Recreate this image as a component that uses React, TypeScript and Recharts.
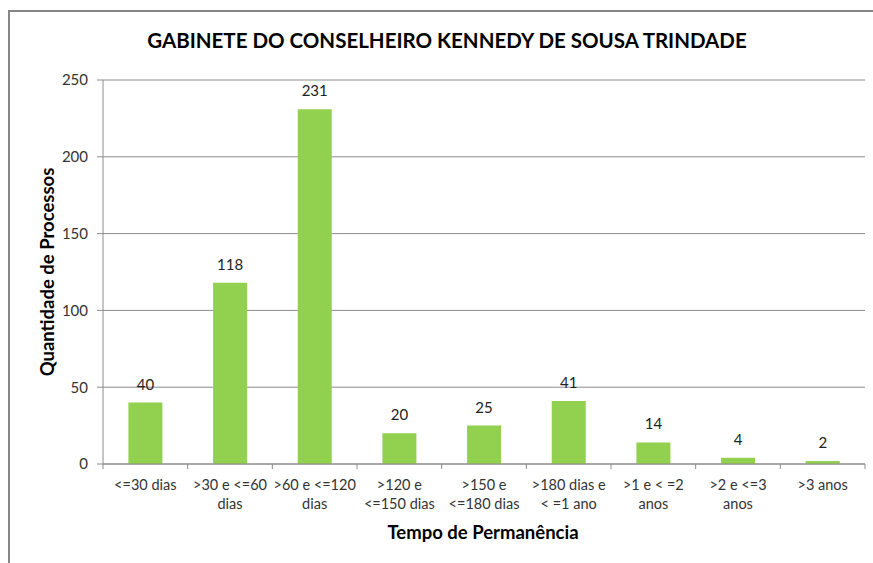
import React from "react";
import { BarChart, Bar, XAxis, YAxis, CartesianGrid, LabelList } from "recharts";

const categories = [
  "<=30 dias",
  ">30 e <=60\ndias",
  ">60 e <=120\ndias",
  ">120 e\n<=150 dias",
  ">150 e\n<=180 dias",
  ">180 dias e\n< =1 ano",
  ">1 e < =2\nanos",
  ">2 e <=3\nanos",
  ">3 anos",
];
const processos = [40, 118, 231, 20, 25, 41, 14, 4, 2];
const yTicks = [0, 50, 100, 150, 200, 250];

const data = categories.map((c, i) => ({ cat: c, value: processos[i] }));

const FONT = "Lato, 'Open Sans', sans-serif";
const PLOT_LEFT = 103;
const PLOT_RIGHT = 865;
const BAND = (PLOT_RIGHT - PLOT_LEFT) / categories.length;

const CatTick = ({ x, y, payload, index }: any) => {
  const lines = String(payload.value).split("\n");
  const left = x - BAND / 2;
  return (
    <g>
      <line x1={left} x2={left} y1={y - 8} y2={y - 3} stroke="#8c8c8c" />
      {index === categories.length - 1 && (
        <line x1={left + BAND} x2={left + BAND} y1={y - 8} y2={y - 3} stroke="#8c8c8c" />
      )}
      <text x={x} y={y} textAnchor="middle" fill="#333" fontSize={14.5} fontFamily={FONT}>
        {lines.map((l, i) => (
          <tspan key={i} x={x} dy={i === 0 ? 18 : 19}>
            {l}
          </tspan>
        ))}
      </text>
    </g>
  );
};

export default function App() {
  return (
    <div style={{ position: "fixed", left: 0, top: 0, width: 873, height: 563, background: "#fff", overflow: "hidden" }}>
      <div
        style={{
          position: "absolute",
          left: 8,
          top: 10,
          width: 900,
          height: 600,
          borderLeft: "2px solid #878787",
          borderTop: "2px solid #878787",
        }}
      />
      <div
        style={{
          position: "absolute",
          left: 0,
          top: 28,
          width: 894,
          textAlign: "center",
          fontFamily: FONT,
          fontWeight: 700,
          fontSize: 20.5,
          color: "#000",
        }}
      >
        GABINETE DO CONSELHEIRO KENNEDY DE SOUSA TRINDADE
      </div>
      <div
        style={{
          position: "absolute",
          left: 383,
          top: 521,
          width: 200,
          textAlign: "center",
          fontFamily: FONT,
          fontWeight: 700,
          fontSize: 18.5,
          color: "#000",
          whiteSpace: "nowrap",
        }}
      >
        Tempo de Permanência
      </div>
      <div
        style={{
          position: "absolute",
          left: 47 - 130,
          top: 272 - 12,
          width: 260,
          height: 24,
          lineHeight: "24px",
          textAlign: "center",
          transform: "rotate(-90deg)",
          fontFamily: FONT,
          fontWeight: 700,
          fontSize: 18.5,
          color: "#000",
          whiteSpace: "nowrap",
        }}
      >
        Quantidade de Processos
      </div>
      <div style={{ position: "absolute", left: 0, top: 0 }}>
        <BarChart
          width={873}
          height={563}
          data={data}
          barCategoryGap="30%"
          margin={{ top: 80, right: 873 - PLOT_RIGHT, bottom: 0, left: PLOT_LEFT - 50 }}
        >
          <CartesianGrid vertical={false} stroke="#8c8c8c" />
          <XAxis
            dataKey="cat"
            interval={0}
            tickLine={false}
            axisLine={{ stroke: "#8c8c8c" }}
            tick={<CatTick />}
            height={563 - 464}
          />
          <YAxis
            width={50}
            domain={[0, 250]}
            ticks={yTicks}
            tickSize={6}
            tickMargin={9}
            tickLine={{ stroke: "#8c8c8c" }}
            axisLine={{ stroke: "#8c8c8c" }}
            tick={{ fill: "#333", fontSize: 15, fontFamily: FONT }}
          />
          <Bar dataKey="value" fill="#92d050" isAnimationActive={false}>
            <LabelList dataKey="value" position="top" offset={13} fill="#222" fontSize={15} fontFamily={FONT} />
          </Bar>
        </BarChart>
      </div>
    </div>
  );
}
